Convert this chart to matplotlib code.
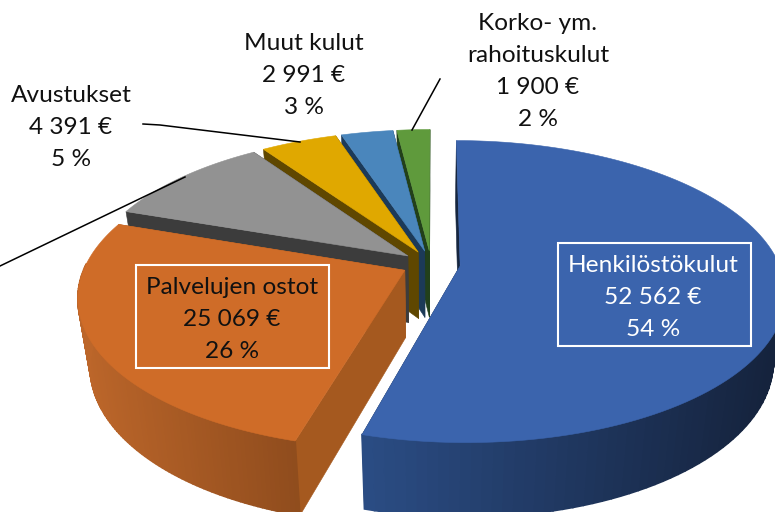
import matplotlib
matplotlib.use("Agg")
import matplotlib.pyplot as plt
import numpy as np

names = ["Henkilöstökulut", "Palvelujen ostot", "Muut palvelut", "Avustukset", "Muut kulut", "Korko- ym.\nrahoituskulut"]
values = [52562, 25069, 9800, 4391, 2991, 1900]
value_labels = ["52 562 €", "25 069 €", "", "4 391 €", "2 991 €", "1 900 €"]
pct_labels = ["54 %", "26 %", "", "5 %", "3 %", "2 %"]
top_colors = ["#3B64AD", "#CF6C28", "#929292", "#E0A800", "#4A86BC", "#5F9A3C"]
radial_colors = ["#16263F", "#A5591F", "#3C3C3C", "#5F4700", "#1C3A58", "#22401A"]
wall_left = ["#2B4D85", "#BC662A", "#3C3C3C", "#5F4700", "#1C3A58", "#22401A"]
wall_right = ["#15233D", "#8F4C1D", "#3C3C3C", "#5F4700", "#1C3A58", "#22401A"]

plt.rcParams["font.family"] = ["Lato", "DejaVu Sans"]

cx, cy = 431, 264
rx, ry = 319, 146
persp = 0.17
explode = 0.092
depth = 65
bottom_scale = 0.965
start = 0.1


def project(u, v, bottom=False):
    s = 1 / (1 + persp * v)
    x = rx * u * s
    y = -ry * v * s
    if bottom:
        return cx + x * bottom_scale, cy + y * bottom_scale + depth * s * 1.03
    return cx + x, cy + y


fig = plt.figure(figsize=(7.75, 5.12), dpi=100)
ax = fig.add_axes([0, 0, 1, 1])
ax.set_xlim(0, 775)
ax.set_ylim(512, 0)
ax.axis("off")

fracs = np.array(values) / sum(values)
edges = start + np.concatenate([[0], np.cumsum(fracs)]) * 360


def fill(xs, ys, c, z, lw=0.4):
    ax.fill(xs, ys, color=c, lw=lw, zorder=z)


# back to front, the big blue slice goes last
order = [5, 4, 3, 2, 1, 0]
for n, i in enumerate(order):
    a0, a1 = np.radians(edges[i]), np.radians(edges[i + 1])
    mid = (a0 + a1) / 2
    ox, oy = explode * np.sin(mid), explode * np.cos(mid)
    z = n * 10
    theta = np.linspace(a0, a1, 120)
    for a in (a0, a1):
        tx0, ty0 = project(ox, oy)
        tx1, ty1 = project(ox + np.sin(a), oy + np.cos(a))
        bx0, by0 = project(ox, oy, True)
        bx1, by1 = project(ox + np.sin(a), oy + np.cos(a), True)
        fill([tx0, tx1, bx1, bx0], [ty0, ty1, by1, by0], radial_colors[i], z + 1)

    # outer wall strips with a gradient along x
    c0 = np.array(matplotlib.colors.to_rgb(wall_left[i]))
    c1 = np.array(matplotlib.colors.to_rgb(wall_right[i]))
    xr = (80, 300) if i == 1 else (362, 775)
    for t0, t1 in zip(theta[:-1], theta[1:]):
        if np.cos((t0 + t1) / 2) > 0.05:
            continue
        p = [project(ox + np.sin(t), oy + np.cos(t)) for t in (t0, t1)]
        q = [project(ox + np.sin(t), oy + np.cos(t), True) for t in (t1, t0)]
        f = np.clip((p[0][0] - xr[0]) / (xr[1] - xr[0]), 0, 1)
        col = c0 + (c1 - c0) * f
        fill([p[0][0], p[1][0], q[0][0], q[1][0]], [p[0][1], p[1][1], q[0][1], q[1][1]], col, z + 2, lw=1.2)

    # top face
    pts = [project(ox, oy)] + [project(ox + np.sin(t), oy + np.cos(t)) for t in theta]
    xs, ys = zip(*pts)
    fill(xs, ys, top_colors[i], z + 3)

txt = dict(ha="center", va="center", fontsize=17.6, zorder=100)


def label(i, x, y, color="#111111"):
    lines = names[i].split("\n") + [value_labels[i], pct_labels[i]]
    for k, line in enumerate(lines):
        ax.text(x, y + k * 32, line, color=color, **txt)


label(0, 653, 265, "white")
label(1, 232, 288)
label(3, 71, 95)
label(4, 304, 43)
label(5, 538, 24)

ax.add_patch(plt.Rectangle((558, 243), 193, 103, fc="none", ec="white", lw=1.5, zorder=90))
ax.add_patch(plt.Rectangle((136, 265), 193, 103, fc="none", ec="white", lw=1.5, zorder=90))

ax.plot([0, 185], [266, 177], color="black", lw=1.1, zorder=95)
ax.plot([143, 160, 300], [124, 125, 142], color="black", lw=1.1, zorder=95)
ax.plot([440, 412], [79, 130], color="black", lw=1.1, zorder=95)

fig.savefig("out.png", dpi=100)
